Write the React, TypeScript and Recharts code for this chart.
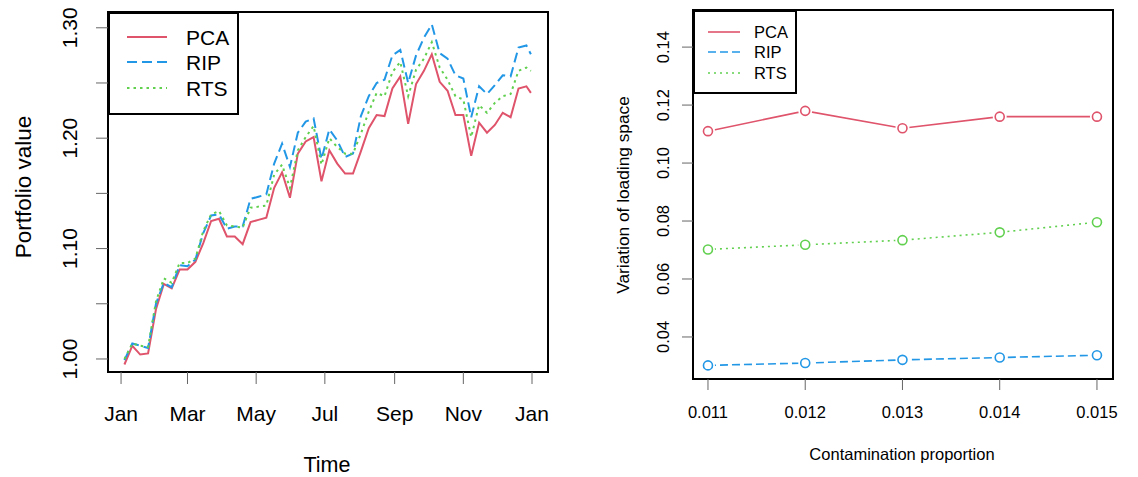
import React from 'react'
import {
  LineChart, Line, XAxis, YAxis, ReferenceArea, Legend,
} from 'recharts'

// left panel: weekly portfolio value (day of year)
const days = [3, 10, 17, 24, 31, 38, 45, 52, 59, 66, 73, 80, 87, 94, 101, 108, 115, 122, 129, 136, 143, 150, 157, 164, 171, 178, 185, 192, 199, 206, 213, 220, 227, 234, 241, 248, 255, 262, 269, 276, 283, 290, 297, 304, 311, 318, 325, 332, 339, 346, 353, 360, 364]
const pcaValue = [0.995, 1.012, 1.004, 1.005, 1.045, 1.068, 1.064, 1.081, 1.081, 1.088, 1.105, 1.125, 1.127, 1.111, 1.111, 1.104, 1.124, 1.126, 1.128, 1.155, 1.169, 1.146, 1.186, 1.197, 1.201, 1.161, 1.189, 1.177, 1.168, 1.168, 1.188, 1.209, 1.221, 1.220, 1.245, 1.256, 1.213, 1.249, 1.261, 1.276, 1.251, 1.243, 1.221, 1.221, 1.184, 1.214, 1.205, 1.212, 1.223, 1.219, 1.245, 1.247, 1.241]
const ripValue = [0.999, 1.014, 1.012, 1.010, 1.050, 1.069, 1.065, 1.085, 1.084, 1.090, 1.114, 1.130, 1.131, 1.118, 1.120, 1.120, 1.145, 1.147, 1.149, 1.177, 1.195, 1.174, 1.205, 1.215, 1.218, 1.181, 1.208, 1.198, 1.183, 1.186, 1.220, 1.238, 1.250, 1.253, 1.275, 1.280, 1.250, 1.275, 1.291, 1.303, 1.277, 1.272, 1.257, 1.254, 1.219, 1.247, 1.240, 1.248, 1.257, 1.256, 1.282, 1.284, 1.276]
const rtsValue = [1.000, 1.014, 1.012, 1.011, 1.052, 1.073, 1.069, 1.087, 1.087, 1.091, 1.116, 1.131, 1.134, 1.121, 1.120, 1.119, 1.137, 1.138, 1.139, 1.167, 1.176, 1.155, 1.189, 1.201, 1.211, 1.176, 1.200, 1.192, 1.186, 1.186, 1.204, 1.224, 1.241, 1.238, 1.260, 1.269, 1.238, 1.262, 1.272, 1.287, 1.264, 1.253, 1.238, 1.235, 1.201, 1.230, 1.223, 1.232, 1.238, 1.240, 1.261, 1.264, 1.261]
const monthTicks = [0, 59, 120, 181, 243, 304, 365]
const monthLabels = ['Jan', 'Mar', 'May', 'Jul', 'Sep', 'Nov', 'Jan']
const valueTicks = [1.0, 1.05, 1.1, 1.15, 1.2, 1.25, 1.3]
const valueLabels = ['1.00', '', '1.10', '', '1.20', '', '1.30']

// right panel: variation of loading space
const proportions = [0.011, 0.012, 0.013, 0.014, 0.015]
const pcaVar = [0.111, 0.118, 0.112, 0.116, 0.116]
const ripVar = [0.0302, 0.0310, 0.0321, 0.0329, 0.0337]
const rtsVar = [0.0702, 0.0718, 0.0734, 0.0761, 0.0796]
const varTicks = [0.04, 0.06, 0.08, 0.1, 0.12, 0.14]

const RED = '#DF536B'
const BLUE = '#2297E6'
const GREEN = '#61D04F'
const FONT = '"Liberation Sans", Arial, sans-serif'

const seriesList = [
  { key: 'pca', name: 'PCA', color: RED },
  { key: 'rip', name: 'RIP', color: BLUE },
  { key: 'rts', name: 'RTS', color: GREEN },
]

const valueData = days.map((d, i) => ({ day: d, pca: pcaValue[i], rip: ripValue[i], rts: rtsValue[i] }))
const varData = proportions.map((p, i) => ({ p, pca: pcaVar[i], rip: ripVar[i], rts: rtsVar[i] }))

const dayDomain = [-11.6, 379.2]
const valueDomain = [0.9882, 1.3143]
const propDomain = [0.010846, 0.015165]
const varDomain = [0.0255, 0.1528]

function makeLegend(w: number, h: number, fs: number, sw: number, dashes: string[], lx: [number, number], tx: number, rows: number[]) {
  return () => (
    <svg width={w} height={h} style={{ display: 'block' }}>
      <rect x={1} y={1} width={w - 2} height={h - 2} fill="#fff" stroke="#000" strokeWidth={2} />
      {seriesList.map((s, i) => (
        <g key={s.key}>
          <line x1={lx[0]} x2={lx[1]} y1={rows[i]} y2={rows[i]} stroke={s.color} strokeWidth={sw} strokeDasharray={dashes[i]} />
          <text x={tx} y={rows[i]} dominantBaseline="central" fontSize={fs} fontFamily={FONT} fill="#000">{s.name}</text>
        </g>
      ))}
    </svg>
  )
}

function PortfolioChart() {
  const dashes = ['', '10 5', '2.5 4']
  return (
    <LineChart width={560} height={477} data={valueData} margin={{ top: 12, right: 12, bottom: 0, left: 0 }}>
      <XAxis dataKey="day" type="number" domain={dayDomain} allowDataOverflow ticks={monthTicks}
        height={105} axisLine={false} tickSize={12} tickLine={{ stroke: '#666' }} interval={0}
        tick={(p: any) => (
          <text x={p.x} y={413} textAnchor="middle" dominantBaseline="central" fontSize={21} fontFamily={FONT} fill="#000">
            {monthLabels[monthTicks.indexOf(p.payload.value)]}
          </text>
        )}
        label={{ content: () => <text x={327} y={465} textAnchor="middle" dominantBaseline="central" fontSize={21.5} fontFamily={FONT} fill="#000">Time</text> }}
      />
      <YAxis type="number" domain={valueDomain} allowDataOverflow ticks={valueTicks} width={108}
        axisLine={false} tickSize={12} tickLine={{ stroke: '#666' }} interval={0}
        tick={(p: any) => (
          <text x={70} y={p.y} transform={`rotate(-90, 70, ${p.y})`} textAnchor="middle" dominantBaseline="central" fontSize={21} fontFamily={FONT} fill="#000">
            {valueLabels[valueTicks.findIndex((t) => Math.abs(t - p.payload.value) < 1e-6)]}
          </text>
        )}
        label={{ content: () => <text x={23} y={187} transform="rotate(-90, 23, 187)" textAnchor="middle" dominantBaseline="central" fontSize={22.5} fontFamily={FONT} fill="#000">Portfolio value</text> }}
      />
      <ReferenceArea x1={dayDomain[0]} x2={dayDomain[1]} y1={valueDomain[0]} y2={valueDomain[1]} fill="none" fillOpacity={0} stroke="#000" strokeWidth={2} />
      {seriesList.map((s, i) => (
        <Line key={s.key} dataKey={s.key} name={s.name} stroke={s.color} strokeWidth={2} strokeDasharray={dashes[i] || undefined}
          dot={false} activeDot={false} isAnimationActive={false} type="linear" />
      ))}
      <Legend layout="vertical" align="center" verticalAlign="middle"
        wrapperStyle={{ left: 108, top: 12, width: 131, height: 103 }}
        content={makeLegend(131, 103, 21, 2, dashes, [19, 59], 78, [25, 50, 76])} />
    </LineChart>
  )
}

function VariationChart() {
  const dashes = ['', '8 4', '2 4']
  const dot = (color: string) => (p: any) => (
    <g key={`${color}-${p.index}`}>
      <circle cx={p.cx} cy={p.cy} r={7} fill="#fff" />
      <circle cx={p.cx} cy={p.cy} r={4.5} fill="none" stroke={color} strokeWidth={1.6} />
    </g>
  )
  return (
    <LineChart width={578} height={477} data={varData} margin={{ top: 10, right: 25, bottom: 0, left: 0 }}>
      <XAxis dataKey="p" type="number" domain={propDomain} allowDataOverflow ticks={proportions}
        height={98} axisLine={false} tickSize={11} tickLine={{ stroke: '#666' }} interval={0}
        tick={(p: any) => (
          <text x={p.x} y={412} textAnchor="middle" dominantBaseline="central" fontSize={16.5} fontFamily={FONT} fill="#000">
            {Number(p.payload.value).toFixed(3)}
          </text>
        )}
        label={{ content: () => <text x={342} y={454} textAnchor="middle" dominantBaseline="central" fontSize={16.5} fontFamily={FONT} fill="#000">Contamination proportion</text> }}
      />
      <YAxis type="number" domain={varDomain} allowDataOverflow ticks={varTicks} width={133}
        axisLine={false} tickSize={11} tickLine={{ stroke: '#666' }} interval={0}
        tick={(p: any) => (
          <text x={103} y={p.y} transform={`rotate(-90, 103, ${p.y})`} textAnchor="middle" dominantBaseline="central" fontSize={16.5} fontFamily={FONT} fill="#000">
            {Number(p.payload.value).toFixed(2)}
          </text>
        )}
        label={{ content: () => <text x={63} y={195} transform="rotate(-90, 63, 195)" textAnchor="middle" dominantBaseline="central" fontSize={17.3} fontFamily={FONT} fill="#000">Variation of loading space</text> }}
      />
      <ReferenceArea x1={propDomain[0]} x2={propDomain[1]} y1={varDomain[0]} y2={varDomain[1]} fill="none" fillOpacity={0} stroke="#000" strokeWidth={2} />
      {seriesList.map((s, i) => (
        <Line key={s.key} dataKey={s.key} name={s.name} stroke={s.color} strokeWidth={1.6} strokeDasharray={dashes[i] || undefined}
          dot={dot(s.color)} activeDot={false} isAnimationActive={false} type="linear" />
      ))}
      <Legend layout="vertical" align="center" verticalAlign="middle"
        wrapperStyle={{ left: 133, top: 10, width: 104, height: 84 }}
        content={makeLegend(104, 84, 16.5, 1.6, dashes, [15, 47], 61, [22, 42, 63])} />
    </LineChart>
  )
}

export default function App() {
  return (
    <div style={{ position: 'relative', width: 1138, height: 477, background: '#fff' }}>
      <style>{'body{margin:0;}'}</style>
      <div style={{ position: 'absolute', left: 0, top: 0 }}><PortfolioChart /></div>
      <div style={{ position: 'absolute', left: 560, top: 0 }}><VariationChart /></div>
    </div>
  )
}
